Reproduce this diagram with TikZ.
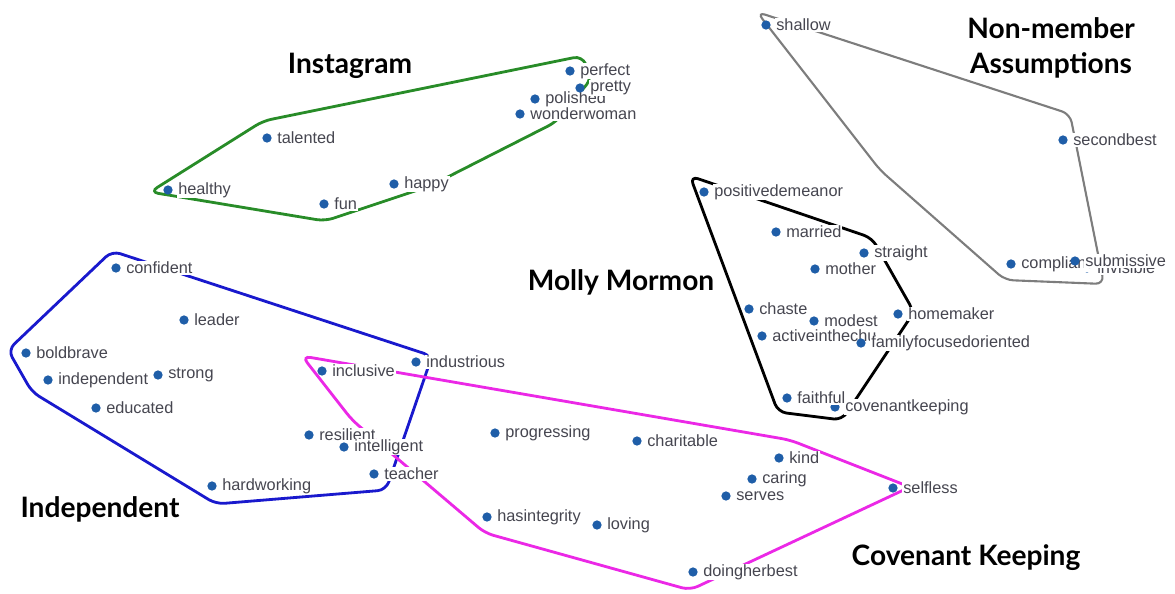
\documentclass[tikz,border=0pt]{standalone}
\usepackage{fontspec}
\setmainfont{Liberation Sans}
\newfontfamily\titlefont{Lato}
\usetikzlibrary{positioning}

\definecolor{dotblue}{RGB}{31,94,168}
\definecolor{lblgray}{RGB}{70,70,80}
\definecolor{hullgreen}{RGB}{40,140,40}
\definecolor{hullblue}{RGB}{25,25,205}
\definecolor{hullpink}{RGB}{235,40,230}
\definecolor{hullgray}{RGB}{125,125,125}

\begin{document}
\begin{tikzpicture}[x=0.025cm, y=-0.025cm, label distance=3pt,
  pt/.style={circle, fill=dotblue, inner sep=0pt, minimum size=6.6pt},
  word/.style={fill=white, inner sep=0.6pt, text=lblgray, font=\fontsize{11.6}{12}\selectfont},
  hull/.style={line width=2pt, rounded corners=6pt},
  title/.style={font=\titlefont\bfseries\fontsize{20}{25}\selectfont, align=center}]
\useasboundingbox (0,0) rectangle (1175,593);

% group outlines
\draw[hull, hullgreen] (263,121) -- (582,56) -- (592,78) -- (556,122) -- (430,186) -- (325,221) -- (150,192) -- cycle;
\draw[hull, hullblue] (112,251) -- (8,350) -- (32,392) -- (216,504) -- (386,490) -- (432,356) -- cycle;
\draw[hull, hullpink] (302,356) -- (790,440) -- (910,487) -- (690,590) -- (485,533) -- (352,420) -- cycle;
\draw[hull, black] (690,176) -- (778,412) -- (842,420) -- (914,312) -- (872,238) -- cycle;
\draw[hull, hullgray, line width=1.5pt] (757,12) -- (1070,114) -- (1104,284) -- (1005,280) -- (880,170) -- cycle;

% Instagram
\node[pt, label={[word]right:perfect}] (perfect) at (570,71) {};
\node[pt, label={[word]right:polished}] (polished) at (535,99) {};
\node[pt, label={[word]right:pretty}] (pretty) at (580,88) {};
\node[pt, label={[word]right:wonderwoman}] (wonderwoman) at (520,114) {};
\node[pt, label={[word]right:talented}] (talented) at (267,138) {};
\node[pt, label={[word]right:healthy}] (healthy) at (168,190) {};
\node[pt, label={[word]right:happy}] (happy) at (394,184) {};
\node[pt, label={[word]right:fun}] (fun) at (324,204) {};

% Independent
\node[pt, label={[word]right:confident}] (confident) at (116,268) {};
\node[pt, label={[word]right:leader}] (leader) at (184,320) {};
\node[pt, label={[word]right:boldbrave}] (boldbrave) at (26,353) {};
\node[pt, label={[word]right:independent}] (independent) at (48,380) {};
\node[pt, label={[word]right:strong}] (strong) at (158,375) {};
\node[pt, label={[word]right:educated}] (educated) at (96,408) {};
\node[pt, label={[word]right:hardworking}] (hardworking) at (212,486) {};
\node[pt, label={[word]right:industrious}] (industrious) at (416,362) {};
\node[pt, label={[word]right:resilient}] (resilient) at (309,435) {};
\node[pt, label={[word]right:intelligent}] (intelligent) at (344,447) {};
\node[pt, label={[word]right:teacher}] (teacher) at (374,474) {};

% Covenant Keeping
\node[pt, label={[word]right:inclusive}] (inclusive) at (322,371) {};
\node[pt, label={[word]right:progressing}] (progressing) at (495,433) {};
\node[pt, label={[word]right:charitable}] (charitable) at (637,441) {};
\node[pt, label={[word]right:kind}] (kind) at (779,458) {};
\node[pt, label={[word]right:caring}] (caring) at (752,479) {};
\node[pt, label={[word]right:serves}] (serves) at (726,496) {};
\node[pt, label={[word]right:selfless}] (selfless) at (893,488) {};
\node[pt, label={[word]right:hasintegrity}] (hasintegrity) at (487,517) {};
\node[pt, label={[word]right:loving}] (loving) at (597,525) {};
\node[pt, label={[word]right:doingherbest}] (doingherbest) at (693,572) {};

% Molly Mormon
\node[pt, label={[word]right:positivedemeanor}] (positivedemeanor) at (704,192) {};
\node[pt, label={[word]right:married}] (married) at (776,232) {};
\node[pt, label={[word]right:straight}] (straight) at (864,253) {};
\node[pt, label={[word]right:mother}] (mother) at (815,269) {};
\node[pt, label={[word]right:chaste}] (chaste) at (749,309) {};
\node[pt, label={[word]right:modest}] (modest) at (814,321) {};
\node[pt, label={[word]right:homemaker}] (homemaker) at (898,314) {};
\node[pt, label={[word]right:activeinthechu}] (activeinthechu) at (762,336) {};
\node[pt, label={[word]right:familyfocusedoriented}] (familyfocused) at (861,343) {};
\node[pt, label={[word]right:covenantkeeping}] (covenantkeeping) at (835,407) {};
\node[pt, label={[word]right:faithful}] (faithful) at (787,398) {};

% Non-member Assumptions
\node[pt, label={[word]right:shallow}] (shallow) at (766,25) {};
\node[pt, label={[word]right:secondbest}] (secondbest) at (1063,140) {};
\node[pt, label={[word]right:invisible}] (invisible) at (1087,268) {};
\node[pt, label={[word]right:compliant}] (compliant) at (1011,264) {};
\node[pt, label={[word]right:submissive}] (submissive) at (1075,261) {};

% group names
\node[title] (instagramT) at (350,66) {Instagram};
\node[title] (nonmemberT) at (1051,48) {Non-member\\Assumptions};
\node[title] (mollyT) at (621,282) {Molly Mormon};
\node[title] (independentT) at (100,509) {Independent};
\node[title] (covenantT) at (966,558) {Covenant Keeping};

\end{tikzpicture}
\end{document}
